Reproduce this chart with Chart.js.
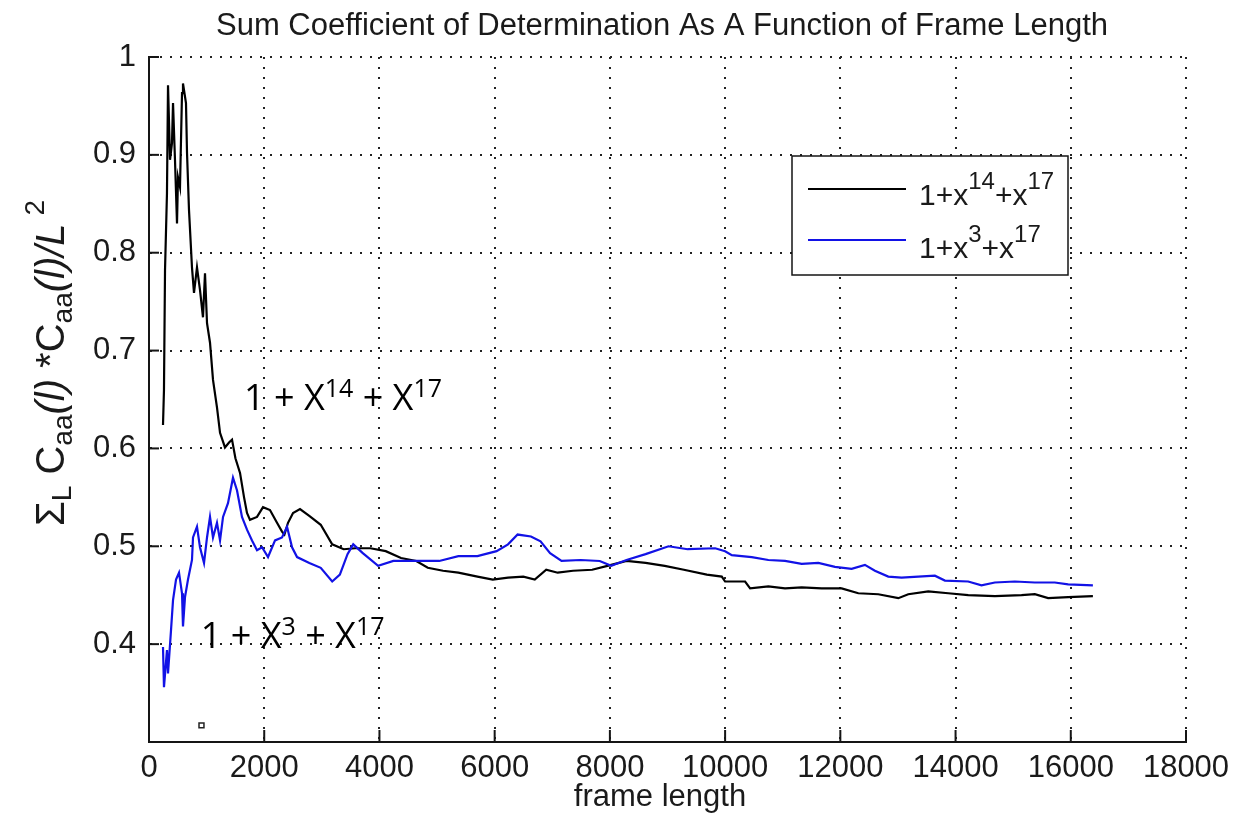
<!DOCTYPE html>
<html><head><meta charset="utf-8">
<script src="https://cdn.jsdelivr.net/npm/chart.js@4.4.1/dist/chart.umd.min.js"></script>
<style>html,body{margin:0;padding:0;background:#fff}#wrap{width:1256px;height:825px;position:relative}</style>
</head><body><div id="wrap"><canvas id="c"></canvas></div>
<script>
const titleText = "Sum Coefficient of Determination As A Function of Frame Length";
const xAxisLabel = "frame length";
const xTicks = [0, 2000, 4000, 6000, 8000, 10000, 12000, 14000, 16000, 18000];
const yTicks = [0.4, 0.5, 0.6, 0.7, 0.8, 0.9, 1];
const seriesNames = ["1+x^14+x^17", "1+x^3+x^17"];

const frameBlack = [243,260,278,312,330,365,399,417,451,486,503,538,573,590,642,660,694,746,781,833,885,937,972,1007,1059,1111,1180,1233,1319,1389,1441,1500,1580,1650,1701,1753,1875,1979,2100,2222,2309,2351,2413,2500,2621,2782,2981,3180,3379,3578,3843,4109,4374,4640,4839,5104,5370,5701,5967,6232,6497,6696,6895,7094,7360,7692,7957,8289,8620,8952,9284,9682,9942,10000,10347,10434,10751,11040,11329,11676,12023,12312,12659,13006,13179,13526,13873,14220,14682,15145,15376,15607,15954,16384];
const valueBlack = [0.624,0.66,0.782,0.861,0.971,0.895,0.912,0.953,0.895,0.83,0.877,0.867,0.963,0.973,0.953,0.902,0.844,0.785,0.759,0.785,0.762,0.734,0.779,0.728,0.708,0.67,0.642,0.616,0.601,0.606,0.609,0.59,0.575,0.55,0.534,0.527,0.53,0.54,0.537,0.524,0.515,0.512,0.524,0.534,0.538,0.531,0.522,0.502,0.497,0.498,0.498,0.495,0.488,0.485,0.478,0.475,0.473,0.469,0.466,0.468,0.469,0.466,0.476,0.473,0.475,0.476,0.48,0.485,0.483,0.48,0.476,0.471,0.469,0.464,0.464,0.457,0.459,0.457,0.458,0.457,0.457,0.452,0.451,0.447,0.451,0.454,0.452,0.45,0.449,0.45,0.451,0.447,0.448,0.449];

const frameBlue = [243,260,312,330,382,417,469,521,573,590,625,677,746,764,833,885,955,1007,1059,1111,1180,1233,1285,1371,1458,1528,1614,1701,1788,1875,1962,2066,2188,2309,2396,2483,2570,2783,2981,3180,3313,3446,3545,3711,3977,4242,4507,4773,5038,5370,5701,6033,6232,6398,6630,6796,6962,7161,7492,7824,8023,8289,8620,9018,9350,9827,10000,10116,10462,10751,11040,11329,11618,11907,12196,12427,12600,12832,13063,13352,13641,13815,14219,14450,14682,15029,15376,15722,15954,16384];
const valueBlue = [0.397,0.356,0.394,0.37,0.414,0.445,0.466,0.473,0.452,0.418,0.448,0.466,0.486,0.509,0.52,0.499,0.483,0.509,0.53,0.509,0.524,0.506,0.53,0.544,0.57,0.557,0.53,0.517,0.506,0.496,0.499,0.489,0.506,0.509,0.52,0.499,0.489,0.483,0.478,0.464,0.471,0.492,0.502,0.493,0.48,0.485,0.485,0.485,0.485,0.49,0.49,0.495,0.502,0.512,0.51,0.505,0.493,0.485,0.486,0.485,0.48,0.486,0.492,0.5,0.497,0.498,0.495,0.491,0.489,0.486,0.485,0.482,0.483,0.479,0.477,0.481,0.475,0.469,0.468,0.469,0.47,0.465,0.464,0.46,0.463,0.464,0.463,0.463,0.461,0.46];

const markerFrame = [911];
const markerValue = [0.317];

const BLUE = '#1212e6';
const AXIS = '#151515';

function drawRich(ctx, segs, x, y, family) {
  let cx = x;
  segs.forEach(s => {
    ctx.font = (s.it ? 'italic ' : '') + s.s + 'px ' + family;
    ctx.fillText(s.t, cx, y + (s.dy || 0));
    cx += ctx.measureText(s.t).width + (s.gap || 0);
  });
  return cx - x;
}
function richWidth(ctx, segs, family) {
  let w = 0;
  segs.forEach(s => { ctx.font = (s.it ? 'italic ' : '') + s.s + 'px ' + family; w += ctx.measureText(s.t).width + (s.gap || 0); });
  return w;
}

const decor = {
  id: 'decor',
  afterDraw(chart) {
    const {ctx, chartArea: a, scales: {x, y}} = chart;
    ctx.save();
    // inward tick marks
    ctx.strokeStyle = AXIS; ctx.lineWidth = 2;
    yTicks.forEach(v => { const py = y.getPixelForValue(v); ctx.beginPath(); ctx.moveTo(a.left, py); ctx.lineTo(a.left + 10, py); ctx.stroke(); });
    xTicks.forEach(v => { const px = x.getPixelForValue(v); ctx.beginPath(); ctx.moveTo(px, a.bottom); ctx.lineTo(px, a.bottom - 12); ctx.stroke(); });

    // title
    ctx.fillStyle = '#1a1a1a';
    ctx.textAlign = 'center'; ctx.textBaseline = 'alphabetic';
    ctx.font = '31px "Liberation Sans", Arial, sans-serif';
    ctx.fillText(titleText, 662, 35);
    // x label
    ctx.fillText(xAxisLabel, 660, 806);

    // y label (rotated, with sub/superscripts)
    ctx.textAlign = 'left';
    const fam = '"Liberation Sans", Arial, sans-serif';
    const ySegs = [
      {t: 'Σ', s: 40}, {t: 'L', s: 28, dy: 7},
      {t: ' C', s: 40}, {t: 'aa', s: 28, dy: 8},
      {t: '(l)', s: 40, it: true}, {t: ' *', s: 40},
      {t: 'C', s: 40}, {t: 'aa', s: 28, dy: 8},
      {t: '(l)/L', s: 40, it: true}, {t: ' 2', s: 28, dy: -20}
    ];
    ctx.save();
    ctx.translate(64, 363);
    ctx.rotate(-Math.PI / 2);
    const yw = richWidth(ctx, ySegs, fam);
    drawRich(ctx, ySegs, -yw / 2, 0, fam);
    ctx.restore();

    // legend
    ctx.fillStyle = '#fff';
    ctx.fillRect(792, 156, 276, 119);
    ctx.strokeStyle = AXIS; ctx.lineWidth = 1.5;
    ctx.strokeRect(792, 156, 276, 119);
    ctx.lineWidth = 2;
    ctx.strokeStyle = '#000'; ctx.beginPath(); ctx.moveTo(808, 189); ctx.lineTo(906, 189); ctx.stroke();
    ctx.strokeStyle = BLUE; ctx.beginPath(); ctx.moveTo(808, 240); ctx.lineTo(906, 240); ctx.stroke();
    ctx.fillStyle = '#1a1a1a';
    drawRich(ctx, [{t: '1+x', s: 30}, {t: '14', s: 24, dy: -16}, {t: '+x', s: 30}, {t: '17', s: 24, dy: -16}], 919, 205, fam);
    drawRich(ctx, [{t: '1+x', s: 30}, {t: '3', s: 24, dy: -16}, {t: '+x', s: 30}, {t: '17', s: 24, dy: -16}], 919, 258, fam);

    // annotations
    ctx.fillStyle = '#000';
    const afam = '"Open Sans", "Noto Sans", sans-serif';
    drawRich(ctx, [{t: '1 + X', s: 36}, {t: '14', s: 25, dy: -13}, {t: ' + X', s: 36}, {t: '17', s: 25, dy: -13}],
      x.getPixelForValue(1650), y.getPixelForValue(0.639), afam);
    drawRich(ctx, [{t: '1 + X', s: 36}, {t: '3', s: 25, dy: -13}, {t: ' + X', s: 36}, {t: '17', s: 25, dy: -13}],
      x.getPixelForValue(900), y.getPixelForValue(0.396), afam);
    ctx.restore();
  }
};

new Chart(document.getElementById('c'), {
  type: 'line',
  data: {
    datasets: [
      {label: seriesNames[0], data: frameBlack.map((f, i) => ({x: f, y: valueBlack[i]})), borderColor: '#000', borderWidth: 2.2, pointRadius: 0, tension: 0, order: 2},
      {label: seriesNames[1], data: frameBlue.map((f, i) => ({x: f, y: valueBlue[i]})), borderColor: BLUE, borderWidth: 2.2, pointRadius: 0, tension: 0, order: 1},
      {label: 'marker', type: 'scatter', data: markerFrame.map((f, i) => ({x: f, y: markerValue[i]})), pointStyle: 'rect', pointRadius: 3.5, borderColor: '#222', borderWidth: 1.5, backgroundColor: '#fff', order: 0}
    ]
  },
  options: {
    responsive: true, maintainAspectRatio: false, animation: false,
    layout: {padding: {top: 57, right: 70, left: 0, bottom: 0}},
    plugins: {legend: {display: false}, tooltip: {enabled: false}, title: {display: false}},
    scales: {
      x: {
        type: 'linear', min: 0, max: 18000,
        afterBuildTicks: s => { s.ticks = xTicks.map(v => ({value: v})); },
        afterFit: s => { s.height = 83; },
        ticks: {callback: v => String(v), color: '#1a1a1a', font: {family: '"Liberation Sans", Arial, sans-serif', size: 31}, padding: 8, maxRotation: 0, autoSkip: false},
        grid: {color: '#222', lineWidth: 2, drawTicks: false},
        border: {display: true, color: AXIS, width: 2, dash: [2, 8]}
      },
      y: {
        type: 'linear', min: 0.3, max: 1,
        afterBuildTicks: s => { s.ticks = yTicks.map(v => ({value: v})); },
        afterFit: s => { s.width = 149; },
        ticks: {callback: v => String(v), color: '#1a1a1a', font: {family: '"Liberation Sans", Arial, sans-serif', size: 31}, padding: 13, autoSkip: false},
        grid: {color: '#222', lineWidth: 2, drawTicks: false},
        border: {display: true, color: AXIS, width: 2, dash: [2, 8]}
      }
    }
  },
  plugins: [decor]
});
</script></body></html>
